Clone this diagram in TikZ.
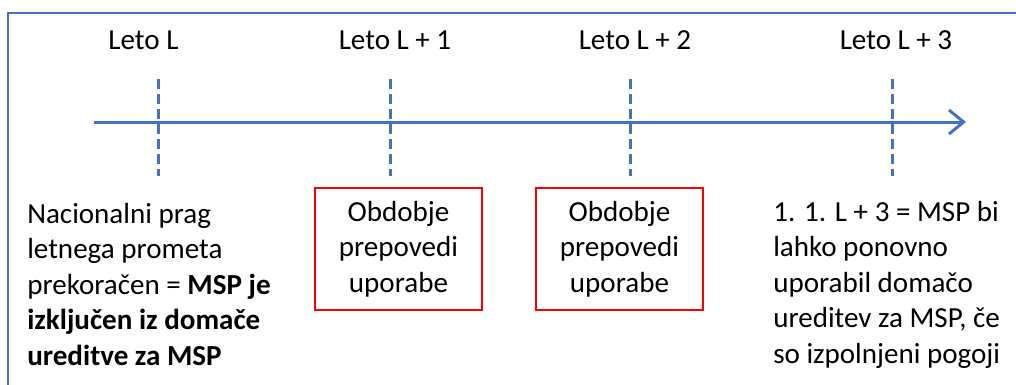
\documentclass[tikz,border=0pt]{standalone}
\usepackage{fontspec}
\setmainfont{Carlito}
\usetikzlibrary{arrows.meta}

\definecolor{axisblue}{HTML}{4472C4}

\begin{document}
\begin{tikzpicture}[x=0.75pt,y=-0.75pt, font=\fontsize{21.8}{26.6}\selectfont,
  axis/.style = {draw=axisblue, line width=2.25pt, -{Straight Barb[length=11pt,width=18pt,line width=2.25pt]}},
  tick/.style = {draw=axisblue, line width=2.25pt, dash pattern=on 7.5pt off 3.75pt},
  year/.style = {anchor=base, inner sep=0pt},
  ban/.style = {draw=red, line width=2pt, align=center, minimum width=125.25pt, minimum height=91.5pt, inner sep=0pt},
  note/.style = {anchor=north west, align=left, inner sep=0pt}]
\useasboundingbox (0,0) rectangle (1016,385);
\clip (0,0) rectangle (1016,385);
\draw[axisblue, line width=1.5pt] (8,13) rectangle (1040,400);

% time axis
\coordinate (start) at (94,122);
\coordinate (end) at (966,122);
\draw[axis] (start) -- (end);

% years
\foreach \name/\x in {y0/158, y1/390, y2/630, y3/892} {
  \coordinate (\name top) at (\x,79);
  \coordinate (\name bot) at (\x,176);
  \draw[tick] (\name top) -- (\name bot);
}
\node[year] (l0) at (143.5,50) {Leto L};
\node[year] (l1) at (395,50) {Leto L + 1};
\node[year] (l2) at (635,50) {Leto L + 2};
\node[year] (l3) at (896,50) {Leto L + 3};

% periods
\node[ban] (p1) at (398.5,249) {Obdobje\\prepovedi\\uporabe};
\node[ban] (p2) at (619.5,249) {Obdobje\\prepovedi\\uporabe};

% notes
\node[note] (n0) at (27,203) {Nacionalni prag\\letnega prometa\\prekoračen = \textbf{MSP je}\\\textbf{izključen iz domače}\\\textbf{ureditve za MSP}};
\node[note] (n3) at (773,201) {1. 1. L + 3 = MSP bi\\lahko ponovno\\uporabil domačo\\ureditev za MSP, če\\so izpolnjeni pogoji};
\end{tikzpicture}
\end{document}
